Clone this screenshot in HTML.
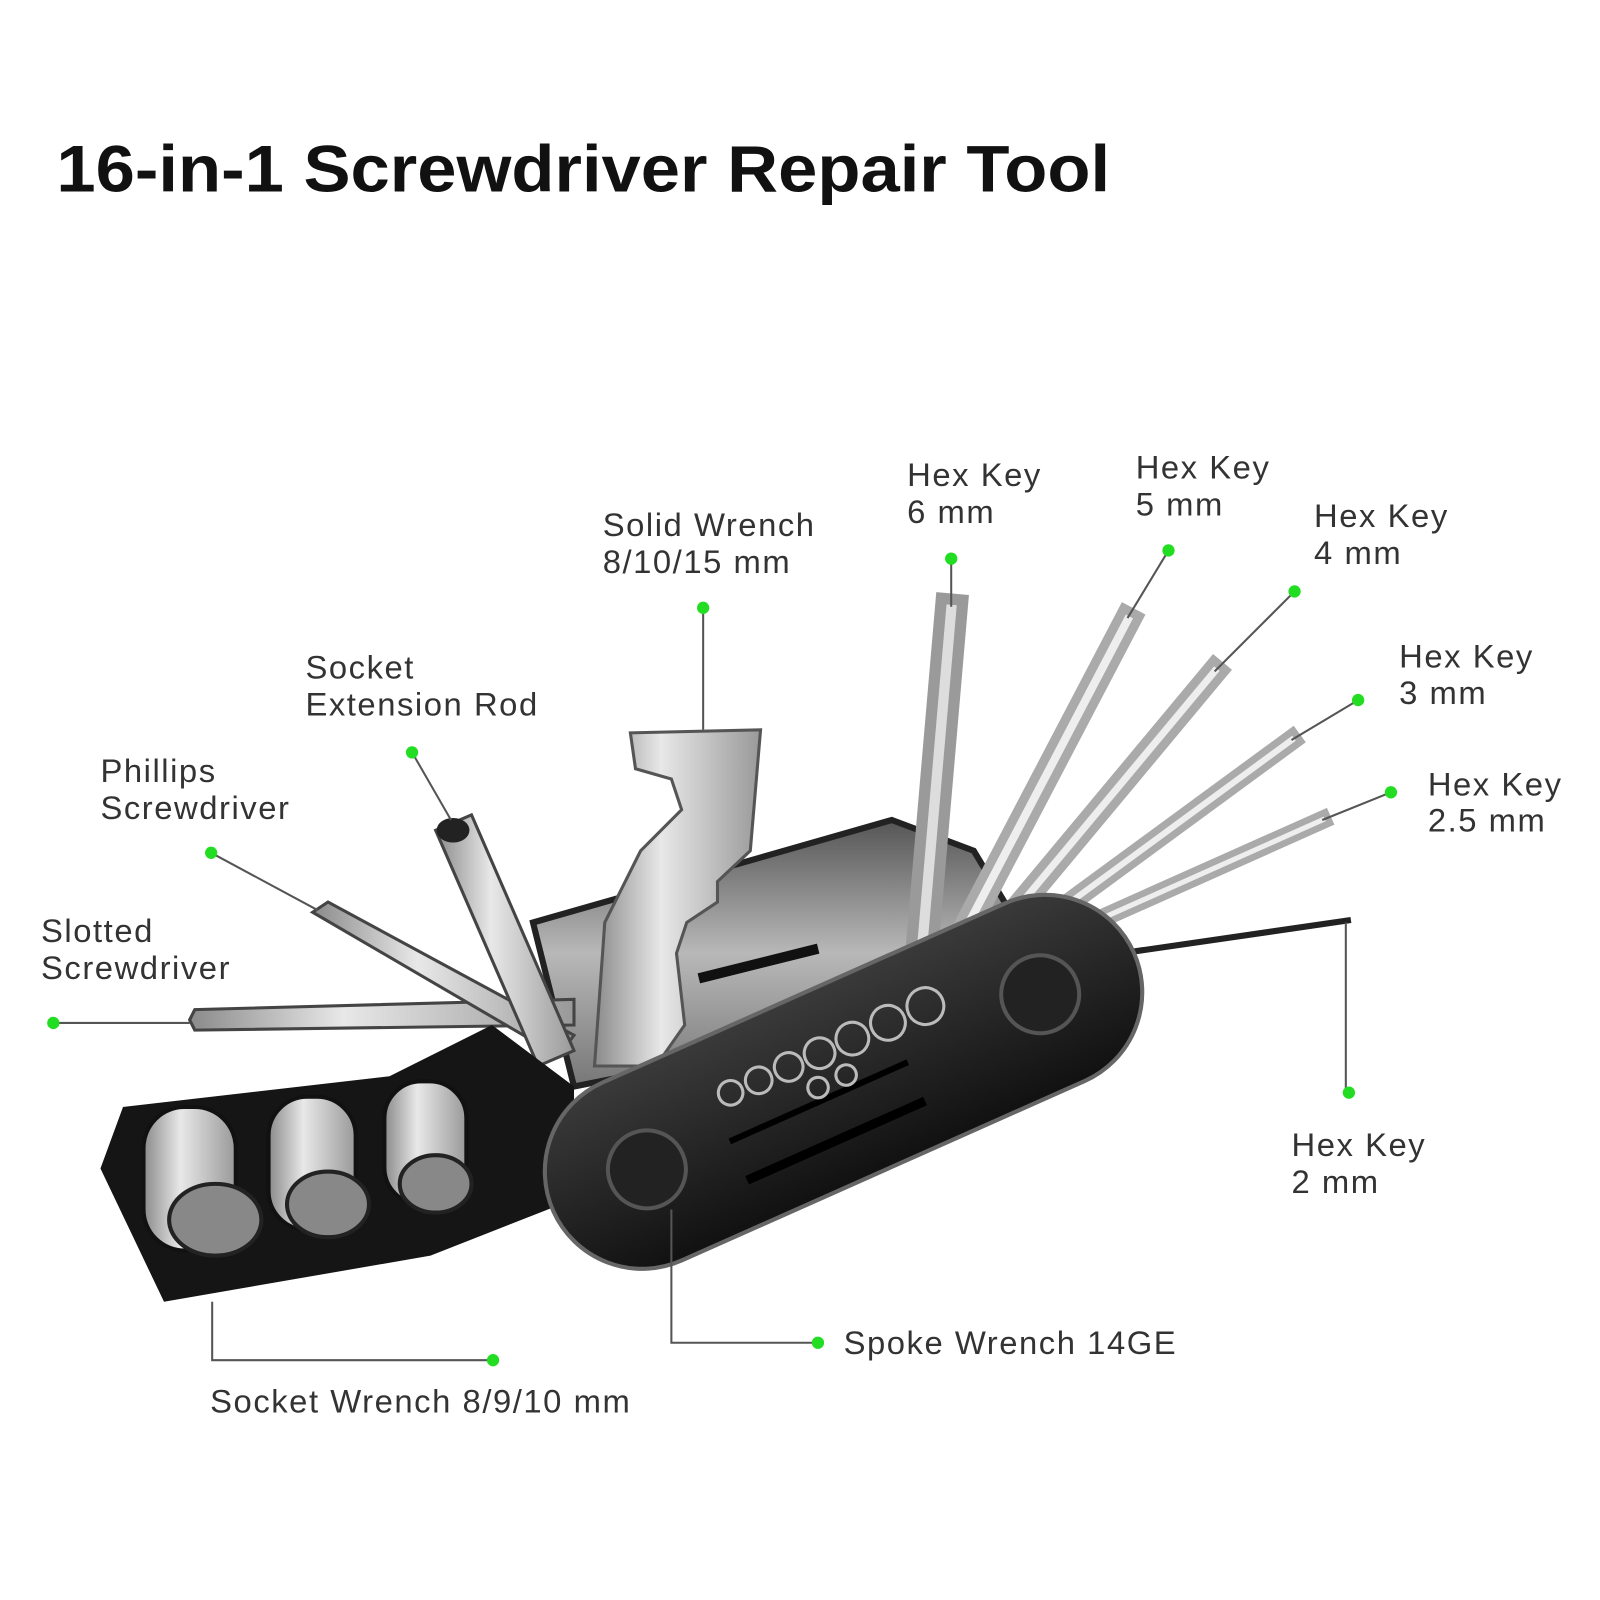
<!DOCTYPE html>
<html><head><meta charset="utf-8"><style>
html,body{margin:0;padding:0;background:#fff;}
svg{display:block}
text{font-family:"Liberation Sans",sans-serif;}
.l{font-size:32px;fill:#333;letter-spacing:1.5px;}
</style></head><body>
<svg width="1600" height="1600" viewBox="0 0 1600 1600" xmlns="http://www.w3.org/2000/svg">
<defs>
<linearGradient id="sil" x1="0" y1="0" x2="1" y2="0"><stop offset="0" stop-color="#8a8a8a"/><stop offset=".4" stop-color="#e8e8e8"/><stop offset="1" stop-color="#999"/></linearGradient>
<linearGradient id="plate" x1="0" y1="0" x2="0" y2="1"><stop offset="0" stop-color="#555"/><stop offset=".5" stop-color="#b8b8b8"/><stop offset="1" stop-color="#777"/></linearGradient>
<linearGradient id="blk" x1="0" y1="0" x2="0" y2="1"><stop offset="0" stop-color="#3a3a3a"/><stop offset="1" stop-color="#111"/></linearGradient>
</defs>
<g transform="scale(1.025)">
<text x="55" y="187" font-size="64" font-weight="bold" fill="#111" textLength="1028" lengthAdjust="spacingAndGlyphs">16-in-1 Screwdriver Repair Tool</text>

<polygon points="520,900 870,800 950,830 1010,930 660,1040 560,1060" fill="url(#plate)" stroke="#222" stroke-width="6"/>
<rect x="680" y="935" width="120" height="10" fill="#111" transform="rotate(-14 740 940)"/>

<g stroke-linecap="square">
<line x1="900" y1="920" x2="928" y2="595" stroke="#9a9a9a" stroke-width="32"/>
<line x1="900" y1="920" x2="928" y2="595" stroke="#ddd" stroke-width="10"/>
<line x1="935" y1="920" x2="1100" y2="605" stroke="#aaa" stroke-width="26"/>
<line x1="935" y1="920" x2="1100" y2="605" stroke="#eee" stroke-width="8"/>
<line x1="960" y1="925" x2="1185" y2="655" stroke="#aaa" stroke-width="24"/>
<line x1="960" y1="925" x2="1185" y2="655" stroke="#eee" stroke-width="7"/>
<line x1="990" y1="920" x2="1260" y2="722" stroke="#aaa" stroke-width="20"/>
<line x1="990" y1="920" x2="1260" y2="722" stroke="#eee" stroke-width="6"/>
<line x1="1010" y1="925" x2="1290" y2="800" stroke="#aaa" stroke-width="18"/>
<line x1="1010" y1="925" x2="1290" y2="800" stroke="#eee" stroke-width="5"/>
<line x1="1060" y1="935" x2="1315" y2="898" stroke="#222" stroke-width="6"/>
</g>

<polygon points="185,995 190,985 560,975 560,1000 190,1005" fill="url(#sil)" stroke="#444" stroke-width="3"/>
<polygon points="305,890 320,880 560,1010 545,1030" fill="url(#sil)" stroke="#444" stroke-width="3"/>
<polygon points="425,810 460,795 560,1025 525,1040" fill="url(#sil)" stroke="#444" stroke-width="3"/>
<ellipse cx="442" cy="810" rx="16" ry="12" fill="#222"/>

<polygon points="615,715 742,712 732,830 700,860 700,880 670,900 660,930 668,1000 640,1040 580,1040 590,900 625,830 665,790 655,760 620,750" fill="url(#sil)" stroke="#555" stroke-width="3"/>

<polygon points="98,1140 160,1270 420,1225 560,1170 560,1060 480,1000 380,1050 120,1080" fill="#151515"/>
<g fill="url(#sil)" stroke="#111" stroke-width="4">
<rect x="140" y="1080" width="90" height="140" rx="40"/>
<rect x="262" y="1070" width="85" height="130" rx="38"/>
<rect x="375" y="1055" width="80" height="120" rx="36"/>
</g>
<g fill="#888" stroke="#222" stroke-width="4">
<ellipse cx="210" cy="1190" rx="45" ry="35"/>
<ellipse cx="320" cy="1175" rx="40" ry="32"/>
<ellipse cx="425" cy="1155" rx="35" ry="28"/>
</g>

<g transform="rotate(-24 825 1060)">
<rect x="515" y="960" width="620" height="190" rx="95" fill="url(#blk)" stroke="#666" stroke-width="4"/>
<rect x="700" y="1100" width="190" height="9" fill="#000"/>
<rect x="700" y="1060" width="190" height="6" fill="#000"/>
<circle cx="615" cy="1055" r="38" fill="#222" stroke="#555" stroke-width="4"/>
<circle cx="1035" cy="1055" r="38" fill="#222" stroke="#555" stroke-width="4"/>
<g fill="none" stroke="#bbb" stroke-width="3">
<circle cx="720" cy="1020" r="12"/><circle cx="750" cy="1020" r="13"/><circle cx="782" cy="1020" r="14"/><circle cx="815" cy="1020" r="15"/><circle cx="850" cy="1020" r="16"/><circle cx="888" cy="1020" r="17"/><circle cx="928" cy="1020" r="18"/><circle cx="800" cy="1050" r="10"/><circle cx="830" cy="1050" r="10"/>
</g>
</g>

<g stroke="#555" stroke-width="2" fill="none">
<line x1="928" y1="545" x2="928" y2="592"/>
<line x1="1140" y1="537" x2="1100" y2="603"/>
<line x1="1263" y1="577" x2="1185" y2="655"/>
<line x1="1325" y1="683" x2="1260" y2="722"/>
<line x1="1357" y1="773" x2="1290" y2="800"/>
<polyline points="1313,900 1313,1066"/>
<line x1="686" y1="593" x2="686" y2="712"/>
<line x1="402" y1="734" x2="440" y2="800"/>
<line x1="206" y1="832" x2="310" y2="888"/>
<line x1="52" y1="998" x2="185" y2="998"/>
<polyline points="207,1270 207,1327 481,1327"/>
<polyline points="655,1180 655,1310 798,1310"/>
</g>
<g fill="#22dd22">
<circle cx="928" cy="545" r="6"/><circle cx="1140" cy="537" r="6"/><circle cx="1263" cy="577" r="6"/>
<circle cx="1325" cy="683" r="6"/><circle cx="1357" cy="773" r="6"/><circle cx="1316" cy="1066" r="6"/>
<circle cx="686" cy="593" r="6"/><circle cx="402" cy="734" r="6"/><circle cx="206" cy="832" r="6"/>
<circle cx="52" cy="998" r="6"/><circle cx="481" cy="1327" r="6"/><circle cx="798" cy="1310" r="6"/>
</g>
<g>
<text x="885" y="474" class="l">Hex Key</text><text x="885" y="510" class="l">6 mm</text>
<text x="1108" y="467" class="l">Hex Key</text><text x="1108" y="503" class="l">5 mm</text>
<text x="1282" y="514" class="l">Hex Key</text><text x="1282" y="550" class="l">4 mm</text>
<text x="1365" y="651" class="l">Hex Key</text><text x="1365" y="687" class="l">3 mm</text>
<text x="1393" y="776" class="l">Hex Key</text><text x="1393" y="811" class="l">2.5 mm</text>
<text x="1260" y="1128" class="l">Hex Key</text><text x="1260" y="1164" class="l">2 mm</text>
<text x="588" y="523" class="l">Solid Wrench</text><text x="588" y="559" class="l">8/10/15 mm</text>
<text x="298" y="662" class="l">Socket</text><text x="298" y="698" class="l">Extension Rod</text>
<text x="98" y="763" class="l">Phillips</text><text x="98" y="799" class="l">Screwdriver</text>
<text x="40" y="919" class="l">Slotted</text><text x="40" y="955" class="l">Screwdriver</text>
<text x="205" y="1378" class="l">Socket Wrench 8/9/10 mm</text>
<text x="823" y="1321" class="l">Spoke Wrench 14GE</text>
</g>
</g>
</svg>
</body></html>
